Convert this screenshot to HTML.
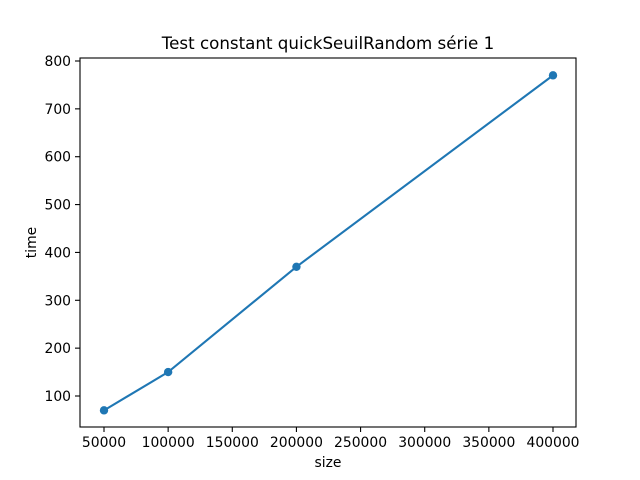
<!DOCTYPE html>
<html><head><meta charset="utf-8"><style>body{margin:0;background:#fff}svg{display:block;font-family:"DejaVu Sans","Liberation Sans",sans-serif}</style></head>
<body>
<svg id="chart" width="640" height="480" viewBox="0 0 640 480" xmlns="http://www.w3.org/2000/svg">
<rect width="640" height="480" fill="#fff"/>
<text x="328" y="49" font-size="16.7" text-anchor="middle">Test constant quickSeuilRandom série 1</text>
<g id="ticks"></g>
<g id="series"></g>
<rect x="80" y="58" width="496" height="369" fill="none" stroke="#000" stroke-width="1.1"/>
<text x="328" y="467" font-size="13.9" text-anchor="middle">size</text>
<text transform="translate(36,242.5) rotate(-90)" font-size="13.9" text-anchor="middle">time</text>
</svg>
<script>
const sizes = [50000, 100000, 200000, 400000];
const times = [70, 150, 370, 770];
const xTicks = [50000, 100000, 150000, 200000, 250000, 300000, 350000, 400000];
const yTicks = [100, 200, 300, 400, 500, 600, 700, 800];
const NS = "http://www.w3.org/2000/svg";
function xs(v){ return 104 + (v - 50000) * (449 / 350000); }
function ys(v){ return 396 - (v - 100) * (335 / 700); }
const tg = document.getElementById('ticks');
function mk(tag, attrs, parent){ const e = document.createElementNS(NS, tag); for (const k in attrs) e.setAttribute(k, attrs[k]); parent.appendChild(e); return e; }
xTicks.forEach(t => {
  const x = xs(t);
  const l = mk('line', {x1:x, x2:x, y1:427, y2:432, stroke:'#000', 'stroke-width':1.1}, tg);
  
  
  const tx = mk('text', {x:x, y:447, 'font-size':13.9, 'text-anchor':'middle'}, tg);
  tx.textContent = t;
  
  
});
yTicks.forEach(t => {
  const y = ys(t);
  const l = mk('line', {x1:75, x2:80, y1:y, y2:y, stroke:'#000', 'stroke-width':1.1}, tg);
  
  
  const tx = mk('text', {x:71, y:y + 5, 'font-size':13.9, 'text-anchor':'end'}, tg);
  tx.textContent = t;
  
  
});
const sg = document.getElementById('series');
const pl = mk('polyline', {points: sizes.map((s,i) => xs(s) + ',' + ys(times[i])).join(' '), fill:'none', stroke:'#1f77b4', 'stroke-width':2.1}, sg);


sizes.forEach((s,i) => {
  const c = mk('circle', {cx:xs(s), cy:ys(times[i]), r:4.2, fill:'#1f77b4'}, sg);
  
  
});
</script>
</body></html>
